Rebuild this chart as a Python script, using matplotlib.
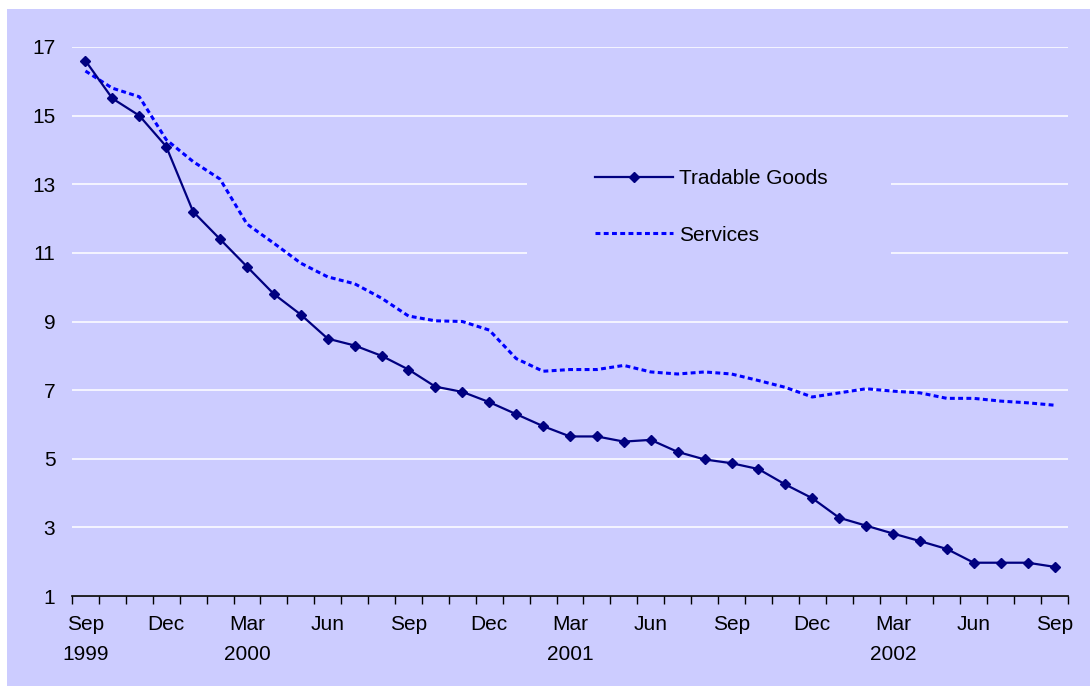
import matplotlib
matplotlib.use("Agg")
import matplotlib.pyplot as plt
from matplotlib.patches import Rectangle
from matplotlib.ticker import FixedLocator

plt.rcParams['font.family'] = ['Liberation Sans', 'DejaVu Sans']

tick_labels = ["Sep\n1999", "Dec", "Mar\n2000", "Jun", "Sep", "Dec", "Mar\n2001",
               "Jun", "Sep", "Dec", "Mar\n2002", "Jun", "Sep"]

tradable = [16.6, 15.5, 15.0, 14.1, 12.2, 11.4, 10.6, 9.8, 9.2, 8.5,
            8.3, 8.0, 7.6, 7.1, 6.95, 6.65, 6.3, 5.95, 5.65, 5.65,
            5.5, 5.55, 5.2, 4.98, 4.87, 4.7, 4.25, 3.85, 3.28, 3.05,
            2.82, 2.6, 2.37, 1.97, 1.97, 1.97, 1.85]
services = [16.3, 15.8, 15.55, 14.3, 13.66, 13.15, 11.84, 11.28, 10.7, 10.3,
            10.1, 9.68, 9.16, 9.02, 9.0, 8.75, 7.92, 7.55, 7.6, 7.6,
            7.72, 7.53, 7.47, 7.53, 7.47, 7.28, 7.08, 6.8, 6.92, 7.04,
            6.97, 6.92, 6.76, 6.76, 6.68, 6.63, 6.56]

FS = 15
W, H = 1090, 686
fig = plt.figure(figsize=(W / 100, H / 100), dpi=100)
fig.patch.set_facecolor('white')
fig.add_artist(Rectangle((7 / W, 0), 1 - 7 / W, 1 - 9 / H, transform=fig.transFigure,
                         facecolor='#CCCCFF', edgecolor='none', zorder=-10))

x0, x1, ytop, ybot = 72, 1068, 47, 596
ax = fig.add_axes([x0 / W, 1 - ybot / H, (x1 - x0) / W, (ybot - ytop) / H])
ax.set_facecolor('#CCCCFF')

x = list(range(len(tradable)))
ax.plot(x, services, color='#0000FF', lw=2.2, linestyle=(0, (1.6, 1.1)),
        dash_capstyle='butt', label='Services', zorder=3)
ax.plot(x, tradable, color='#000080', lw=1.6, marker='D', ms=5, mec='#000080',
        mfc='#000080', label='Tradable Goods', zorder=4)

ax.set_xlim(-0.5, len(x) - 0.5)
ax.set_ylim(1, 17)
ax.set_yticks(range(1, 18, 2))
ax.yaxis.grid(True, color='white', lw=1.1)
ax.set_axisbelow(True)

ax.set_xticks(range(0, len(x), 3))
ax.set_xticklabels(tick_labels)
ax.xaxis.set_minor_locator(FixedLocator([i - 0.5 for i in range(len(x) + 1)]))
ax.tick_params(axis='x', which='major', length=0, pad=14, labelsize=FS)
ax.tick_params(axis='x', which='minor', length=6, width=1, color='black', direction='out')
ax.tick_params(axis='y', length=0, pad=12, labelsize=FS)
for t in ax.get_xticklabels():
    t.set_linespacing(1.7)

for s in ['top', 'right', 'left']:
    ax.spines[s].set_visible(False)
ax.spines['bottom'].set_color('black')
ax.spines['bottom'].set_linewidth(1.2)

# legend background box (hides gridlines behind legend)
ax.add_patch(Rectangle((0.457, 0.59), 0.365, 0.26, transform=ax.transAxes,
                       facecolor='#CCCCFF', edgecolor='none', zorder=1))
handles, labels = ax.get_legend_handles_labels()
leg = ax.legend(handles[::-1], labels[::-1], loc='center left',
                bbox_to_anchor=(0.525, 0.7086), frameon=False, fontsize=FS,
                handlelength=3.75, handletextpad=0.29, labelspacing=1.8,
                borderpad=0, borderaxespad=0)

fig.savefig('out.png', dpi=100)
